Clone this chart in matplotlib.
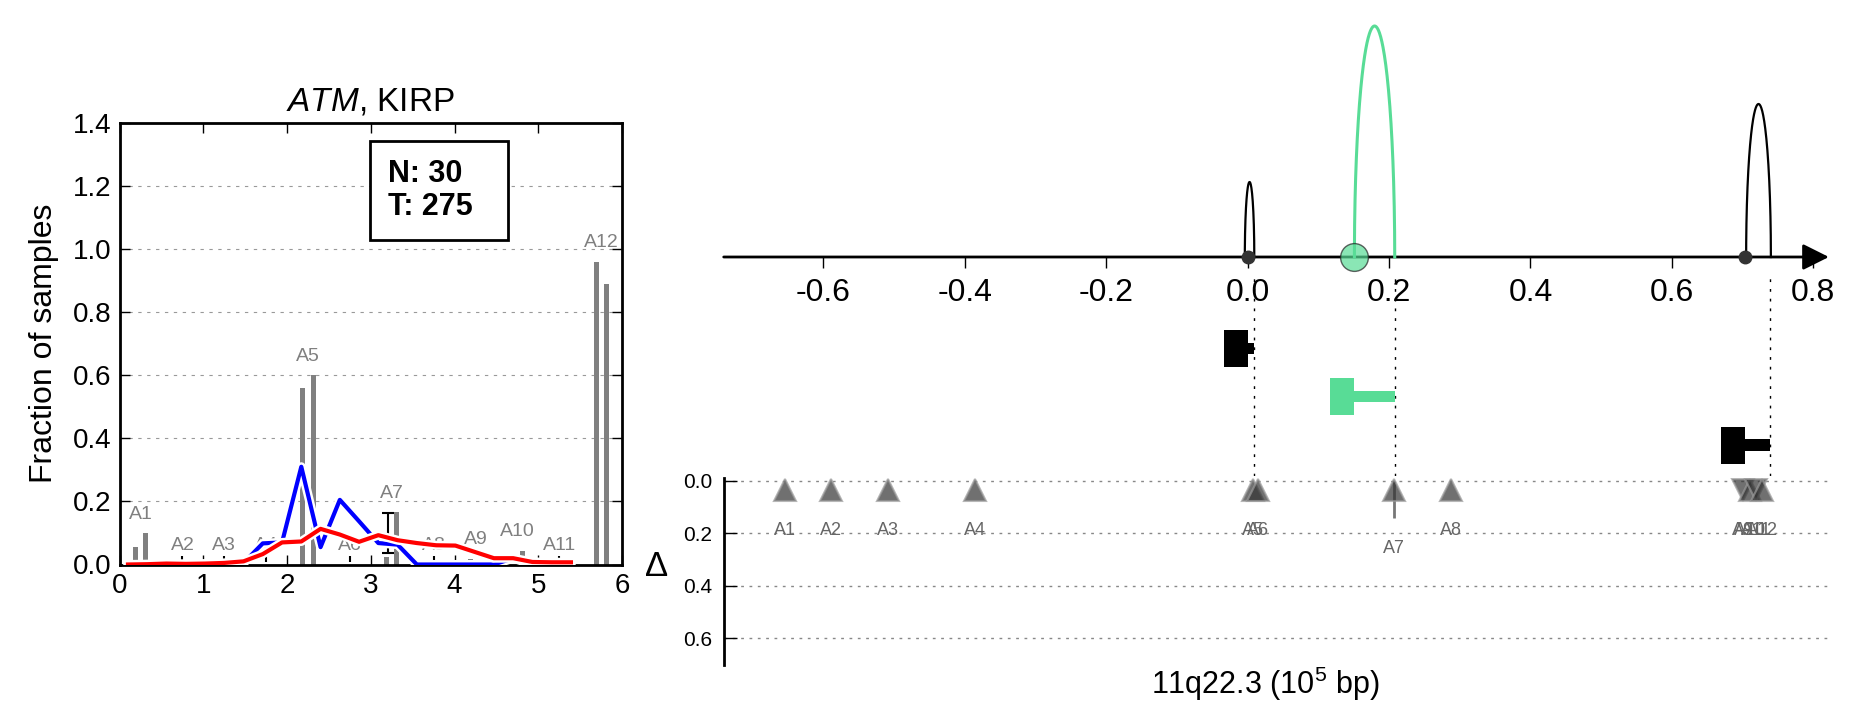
import numpy as np
import matplotlib
matplotlib.use('Agg')
from matplotlib import pyplot as plt
import matplotlib.patheffects as pe

plt.rcParams['font.family'] = ['Liberation Sans', 'DejaVu Sans']
plt.rcParams['mathtext.fontset'] = 'custom'
plt.rcParams['mathtext.rm'] = 'Liberation Sans'
plt.rcParams['mathtext.it'] = 'Liberation Sans:italic'
plt.rcParams['axes.unicode_minus'] = True

############# data: left panel ###############################################
sites = ['A1', 'A2', 'A3', 'A4', 'A5', 'A6', 'A7', 'A8', 'A9', 'A10', 'A11', 'A12']
site_x = [0.25, 0.75, 1.25, 1.75, 2.25, 2.75, 3.25, 3.75, 4.25, 4.75, 5.25, 5.75]
frac_normal = [0.057, 0, 0, 0, 0.561, 0, 0.024, 0, 0.018, 0, 0, 0.96]
frac_tumor = [0.099, 0, 0, 0, 0.60, 0, 0.165, 0, 0, 0.044, 0, 0.89]

err_x = [0.75, 1.25, 1.75, 2.75, 3.20, 3.75, 5.25]
err_lo = [0.008, 0.008, 0.008, 0.008, 0.035, 0.008, 0.008]
err_hi = [0.027, 0.027, 0.027, 0.027, 0.162, 0.027, 0.027]

curve_x = [0.10, 0.33, 0.56, 0.79, 1.02, 1.25, 1.48, 1.71, 1.94, 2.17, 2.40, 2.63,
           2.86, 3.09, 3.32, 3.55, 3.78, 4.01, 4.24, 4.47, 4.70, 4.93, 5.16, 5.39]
curve_blue = [0, 0, 0, 0, 0, 0, 0.005, 0.067, 0.07, 0.31, 0.055, 0.205,
              0.137, 0.068, 0.063, 0, 0, 0, 0, 0, 0.02, 0, 0, 0]
curve_red = [0.0, 0.001, 0.003, 0.002, 0.003, 0.005, 0.01, 0.033, 0.07, 0.073, 0.113, 0.095,
             0.072, 0.093, 0.077, 0.068, 0.061, 0.06, 0.04, 0.02, 0.02, 0.008, 0.007, 0.007]

n_normal = 30
n_tumor = 275

############# data: right panel ##############################################
arc_start = [-0.004, 0.151, 0.705]
arc_end = [0.0094, 0.208, 0.740]
arc_height = [0.75, 2.31, 1.53]
arc_color = ['black', '#58DC96', 'black']

t_mid = [0.0, 0.151, 0.704]
t_end = [0.0095, 0.208, 0.739]
t_level = [-0.915, -1.395, -1.88]

tri_pos = [-0.655, -0.589, -0.508, -0.386, 0.007, 0.014, 0.207, 0.288, 0.700, 0.710, 0.719, 0.728]
tri_delta = [0, 0, 0, 0, 0, 0, 0.14, 0, 0, 0, 0, 0]
tri_marker = ['^', '^', '^', '^', '^', '^', '^', '^', 'v', '^', 'v', '^']

arc_ticks = [-0.6, -0.4, -0.2, 0.0, 0.2, 0.4, 0.6, 0.8]
delta_ticks = [0.0, 0.2, 0.4, 0.6]

W, H = 1875, 718
fig = plt.figure(figsize=(W / 100, H / 100), dpi=100)

############# left panel ####################################################
ax1 = fig.add_axes([119.6 / W, 1 - 564.5 / H, (622 - 119.6) / W, (564.5 - 123) / H])
bw = 0.06
ax1.bar(np.array(site_x) - bw, frac_normal, width=bw, color='#808080', zorder=2)
ax1.bar(np.array(site_x) + bw, frac_tumor, width=bw, color='#808080', zorder=2)
for x, lo, hi in zip(err_x, err_lo, err_hi):
    cap = 4 if hi - lo > 0.05 else 0
    ax1.errorbar([x], [(lo + hi) / 2], yerr=[(hi - lo) / 2], fmt='none',
                 ecolor='k', elinewidth=1.5, capsize=cap, capthick=1.5, zorder=3)
for name, x, a, b in zip(sites, site_x, frac_normal, frac_tumor):
    ax1.text(x, max(a, b) + 0.06, name, ha='center', va='center',
             fontsize=14, color='#808080', zorder=2)

stroke = [pe.Stroke(linewidth=6.5, foreground='white'), pe.Normal()]
ax1.plot(curve_x, curve_blue, color='#0000ff', lw=3, path_effects=stroke, zorder=4)
ax1.plot(curve_x, curve_red, color='#ff0000', lw=3, path_effects=stroke, zorder=5)

ax1.set_xlim(0, 6)
ax1.set_ylim(0, 1.4)
ax1.set_xticks(range(7))
ax1.set_yticks(np.arange(0, 1.41, 0.2))
ax1.set_yticklabels(['%.1f' % v for v in np.arange(0, 1.41, 0.2)])
ax1.tick_params(direction='in', top=True, right=True, length=7, width=1,
                labelsize=20, pad=6)
for s in ax1.spines.values():
    s.set_linewidth(2)
ax1.yaxis.grid(True, color='#999999', linestyle=(0, (3, 5)), lw=0.8)
ax1.set_axisbelow(True)
ax1.set_ylabel('Fraction of samples', fontsize=23, labelpad=10)
ax1.set_title(r'$\it{ATM}$, KIRP', fontsize=24, pad=9)

ax1.add_patch(plt.Rectangle((2.99, 1.029), 1.65, 0.314, facecolor='white',
                            edgecolor='black', lw=2, zorder=6))
ax1.text(3.2, 1.186, 'N: %d\nT: %d' % (n_normal, n_tumor), fontsize=22,
         fontweight='bold', ha='left', va='center', linespacing=1.15, zorder=7)

############# right panel: arcs ##############################################
xl = (-0.741, 0.826)
ax2 = fig.add_axes([723.7 / W, 1 - 476 / H, (1831.7 - 723.7) / W, 476 / H])
ax2.set_xlim(xl)
ax2.set_ylim(-2.19, 2.57)
for s in ax2.spines.values():
    s.set_visible(False)
ax2.spines['bottom'].set_position(('data', 0))
ax2.set_yticks([])
ax2.set_xticks(arc_ticks)
ax2.set_xticklabels(['%.1f' % v for v in arc_ticks])
ax2.tick_params(axis='x', direction='out', length=8, width=1, labelsize=23, pad=7)
ax2.annotate('', xy=(0.822, 0), xytext=(xl[0], 0),
             arrowprops=dict(arrowstyle='-|>', color='k', lw=2,
                             mutation_scale=40, shrinkA=0, shrinkB=0), zorder=2)

t = np.linspace(0, np.pi, 200)
for a, b, h, c in zip(arc_start, arc_end, arc_height, arc_color):
    ax2.plot((a + b) / 2 + (b - a) / 2 * np.cos(t), h * np.sin(t), color=c,
             lw=2.2 if c != 'black' else 1.6, zorder=3)

ax2.plot(t_mid[0], 0, 'o', ms=9, color='#333333', zorder=4)
ax2.plot(t_mid[2], 0, 'o', ms=9, color='#333333', zorder=4)
ax2.plot(t_mid[1], 0, 'o', ms=20, mfc='#58DC96', mec='#222222', mew=1, alpha=0.7, zorder=4)

T_W = 0.034
for m, e, y, c in zip(t_mid, t_end, t_level, arc_color):
    ax2.barh(y, T_W, left=m - T_W, height=0.37, color=c, zorder=3)
    ax2.barh(y, e - m, left=m, height=0.115, color=c, zorder=3)
ax2.vlines(t_end, -2.19, -0.2, colors='k', linestyles=(0, (2, 5)), lw=1, zorder=1)

############# right panel: delta ############################################
ax3 = fig.add_axes([723.7 / W, 1 - 665 / H, (1831.7 - 723.7) / W, (665 - 478) / H])
ax3.set_xlim(xl)
ax3.set_ylim(0.703, -0.011)
for k in ['top', 'right', 'bottom']:
    ax3.spines[k].set_visible(False)
ax3.spines['left'].set_linewidth(2)
ax3.set_xticks([])
ax3.set_yticks(delta_ticks)
ax3.set_yticklabels(['%.1f' % v for v in delta_ticks])
ax3.tick_params(axis='y', direction='in', length=9, width=1, labelsize=15, pad=8)
ax3.yaxis.grid(True, color='#888888', linestyle=(0, (2, 4)), lw=1)
ax3.set_axisbelow(True)

for x, d, m, name in zip(tri_pos, tri_delta, tri_marker, sites):
    if d > 0:
        ax3.vlines(x, 0, d, colors='#777777', lw=2, zorder=2)
    ax3.plot(x, 0.035, marker=m, ms=16, mfc='#333333', mec='#999999', mew=1.5,
             alpha=0.7, zorder=3)
    ax3.text(x, max(0.19, d + 0.12), name, ha='center', va='center',
             fontsize=13, color='#666666')

fig.text(657 / W, 1 - 567 / H, 'Δ', fontsize=25, ha='center', va='center')
fig.text(1265 / W, 1 - 684 / H, r'11q22.3 (10$^5$ bp)', fontsize=22,
         ha='center', va='center')

plt.savefig('out.png', dpi=100)
